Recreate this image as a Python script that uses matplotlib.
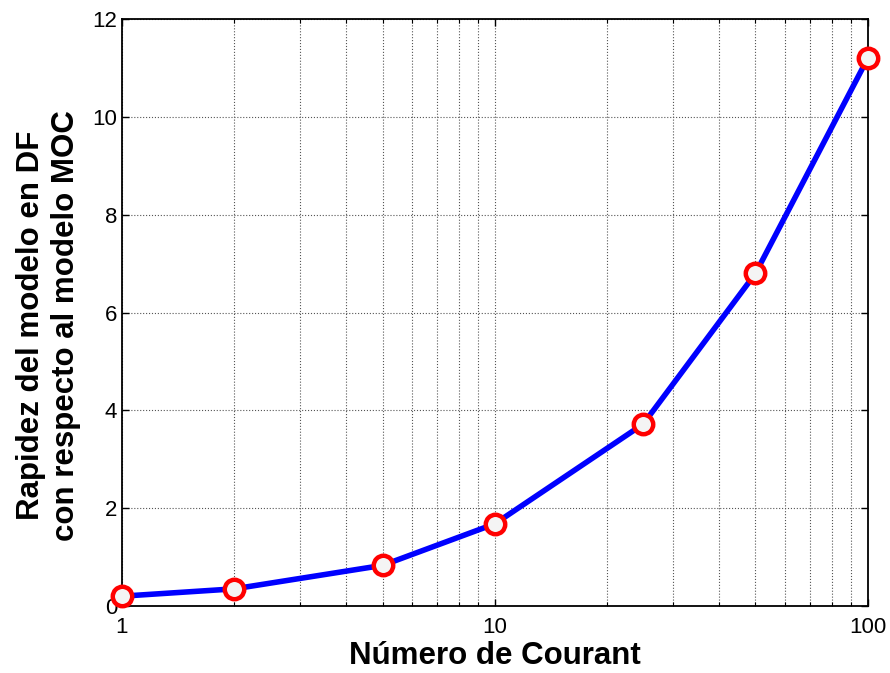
import numpy as np
import matplotlib.pyplot as plt
from matplotlib.ticker import LogLocator, NullFormatter, FixedLocator

plt.rcParams['font.family'] = ['Liberation Sans', 'DejaVu Sans']

# Speed-up of the FD model relative to MOC vs Courant number
courant = [1, 2, 5, 10, 25, 50, 100]
speedup = [0.2, 0.35, 0.83, 1.68, 3.72, 6.8, 11.2]

fig = plt.figure(figsize=(8.9, 6.73), dpi=100)
ax = fig.add_axes([0.137, 0.0996, 0.838, 0.872])

ax.plot(courant, speedup, color='#0000ff', linewidth=4, zorder=3,
        marker='o', markersize=14, markerfacecolor='#f4f4f4',
        markeredgecolor='#ff0000', markeredgewidth=3.2, clip_on=False)

ax.set_xscale('log')
ax.set_xlim(1, 100)
ax.set_ylim(0, 12)
ax.set_yticks(np.arange(0, 13, 2))
ax.xaxis.set_major_locator(FixedLocator([1, 10, 100]))
ax.set_xticklabels(['1', '10', '100'])
ax.xaxis.set_minor_locator(LogLocator(base=10, subs=np.arange(2, 10)))
ax.xaxis.set_minor_formatter(NullFormatter())

ax.grid(True, which='major', color='#555555', linestyle=':', linewidth=0.8)
ax.grid(True, which='minor', axis='x', color='#555555', linestyle=':', linewidth=0.8)

ax.tick_params(which='both', direction='in', top=True, right=True, labelsize=16)
ax.tick_params(which='major', length=5, width=1)
ax.tick_params(which='minor', length=3, width=0.8)
ax.tick_params(axis='x', which='major', pad=8)
for s in ax.spines.values():
    s.set_linewidth(1.3)

ax.set_xlabel('Número de Courant', fontsize=22.5, fontweight='bold', labelpad=2)
ax.set_ylabel('Rapidez del modelo en DF\ncon respecto al modelo MOC',
              fontsize=22.5, fontweight='bold', labelpad=8, linespacing=1.2)
ax.yaxis.label.set_y(0.478)

fig.savefig('out.png', dpi=100)
